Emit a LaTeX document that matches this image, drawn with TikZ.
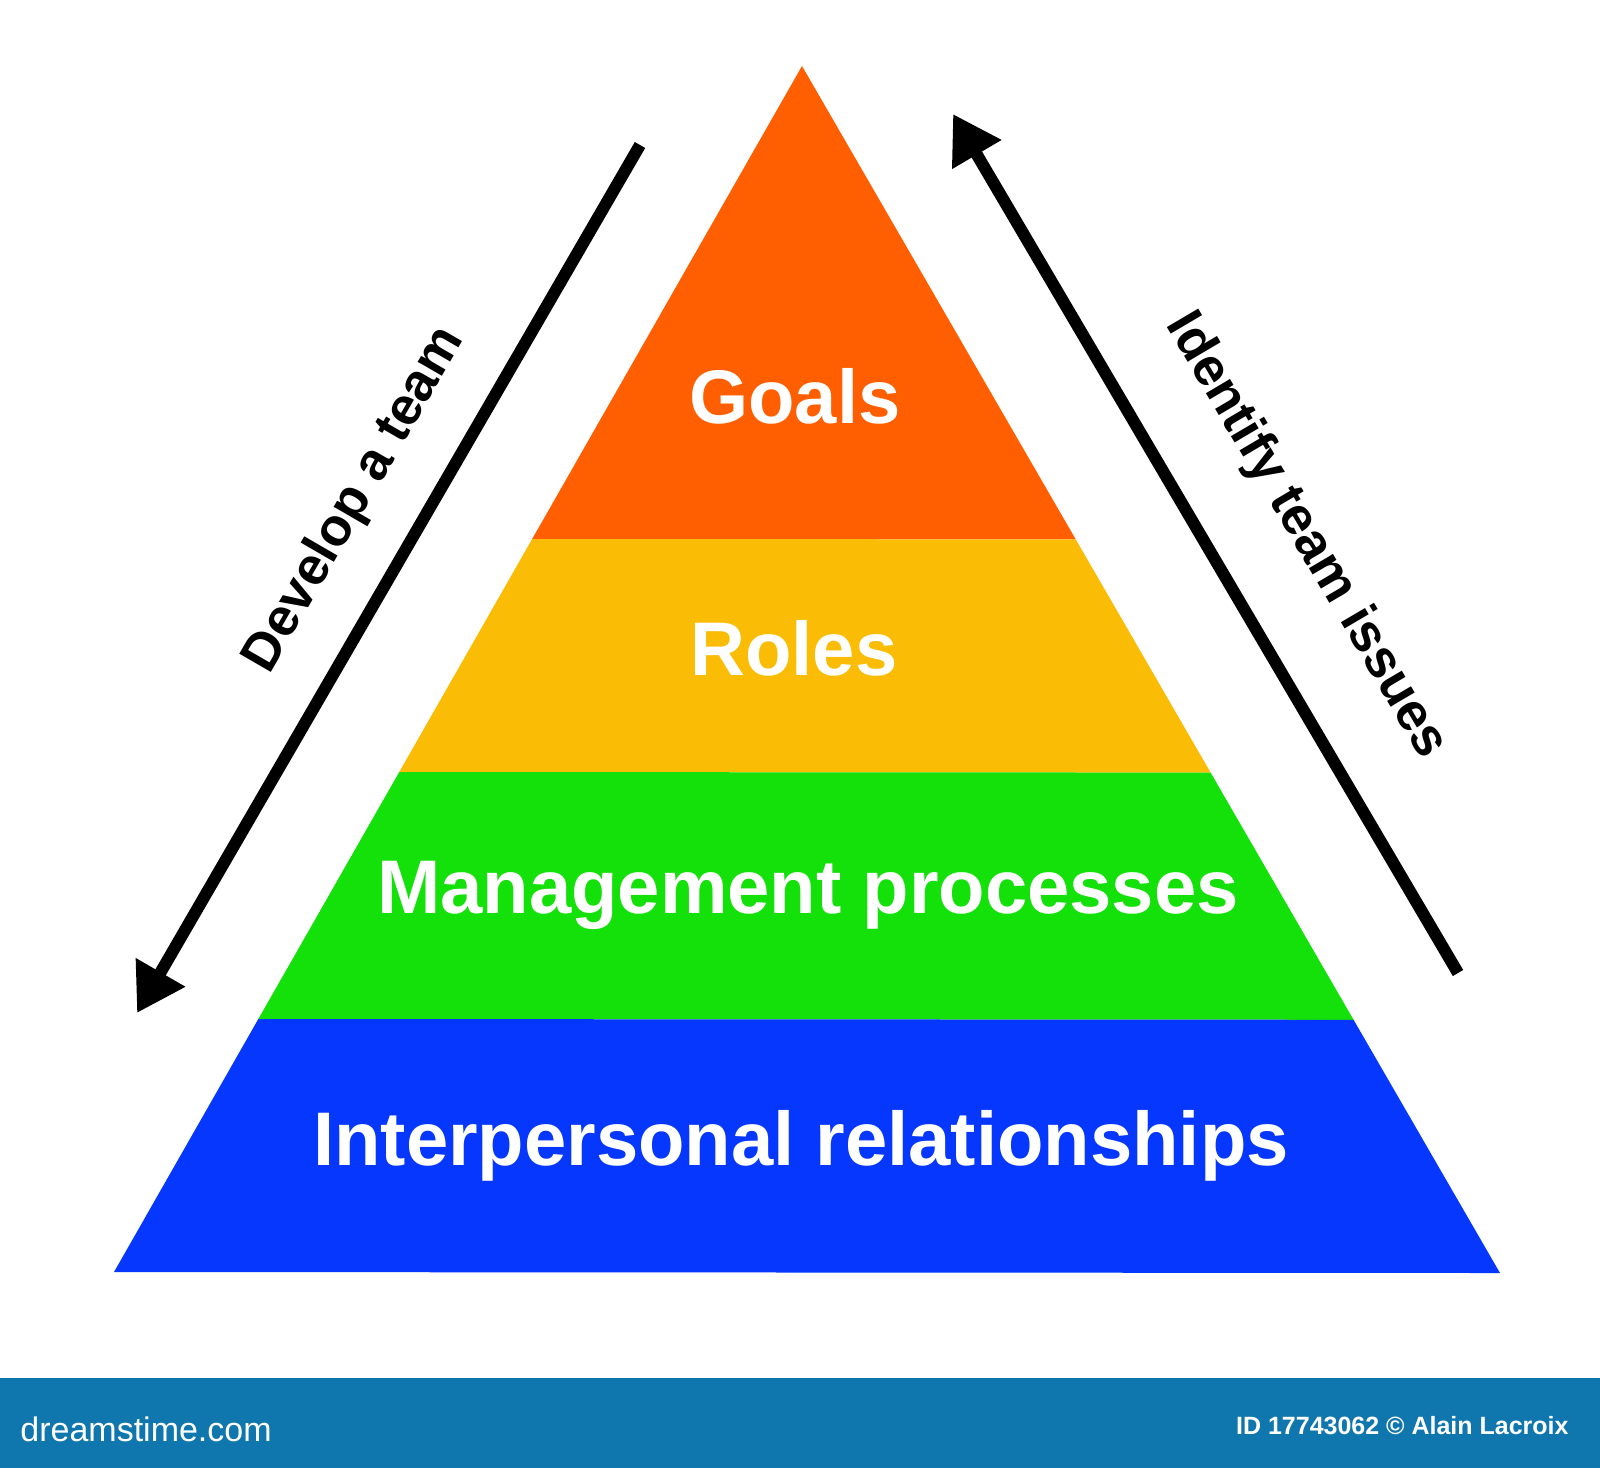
\documentclass[tikz,border=0pt]{standalone}
\usepackage{fontspec}
\setmainfont{Liberation Sans}
\usetikzlibrary{arrows.meta,calc}
\definecolor{cOrange}{HTML}{FF5F00}
\definecolor{cYellow}{HTML}{FBBC05}
\definecolor{cGreen}{HTML}{14E00A}
\definecolor{cBlue}{HTML}{0537FF}
\definecolor{cBanner}{HTML}{0F76AE}
\tikzset{
  bandlabel/.style={text=white,font=\bfseries\fontsize{38}{40}\selectfont,inner sep=0pt,anchor=base},
  sidelabel/.style={text=black,font=\bfseries\fontsize{26.5}{29}\selectfont,inner sep=0pt},
  bigarrow/.style={line width=6pt,-{Triangle[length=23.5pt,width=27pt]}},
}
\begin{document}
\begin{tikzpicture}[x=0.5pt,y=-0.5pt]
\useasboundingbox (0,0) rectangle (1600,1468);
\fill[white] (0,0) rectangle (1600,1468);
% pyramid corners
\coordinate (A) at (802,66);
\coordinate (BL) at (114,1272);
\coordinate (BR) at (1500,1273);
\coordinate (L1) at ($(A)!0.3922!(BL)$);
\coordinate (R1) at ($(A)!0.3922!(BR)$);
\coordinate (L2) at ($(A)!0.5854!(BL)$);
\coordinate (R2) at ($(A)!0.5854!(BR)$);
\coordinate (L3) at ($(A)!0.7902!(BL)$);
\coordinate (R3) at ($(A)!0.7902!(BR)$);
\fill[cOrange] (A) -- (L1) -- (R1) -- cycle;
\fill[cYellow] (L1) -- (L2) -- (R2) -- (R1) -- cycle;
\fill[cGreen] (L2) -- (L3) -- (R3) -- (R2) -- cycle;
\fill[cBlue] (L3) -- (BL) -- (BR) -- (R3) -- cycle;
% band labels
\node[bandlabel] (goals) at (795,423) {Goals};
\node[bandlabel] (roles) at (794,675) {Roles};
\node[bandlabel] (mgmt) at (808,913) {Management processes};
\node[bandlabel] (inter) at (801,1165) {Interpersonal relationships};
% arrows
\coordinate (lstart) at (640,145);
\coordinate (lend) at (137,1013);
\coordinate (rstart) at (1458,973);
\coordinate (rend) at (953,114);
\draw[bigarrow] (lstart) -- (lend);
\draw[bigarrow] (rstart) -- (rend);
\node[sidelabel,rotate=59.9] (dev) at (355,500) {Develop a team};
\node[sidelabel,rotate=-59.5] (ident) at (1306,536) {Identify team issues};
% banner
\fill[cBanner] (0,1378) rectangle (1600,1468);
\node[text=white,font=\fontsize{17}{18}\selectfont,inner sep=0pt,anchor=base west] (ds) at (20,1441) {dreamstime.com};
\node[text=white,font=\bfseries\fontsize{12.5}{14}\selectfont,inner sep=0pt,anchor=base east] (id) at (1569,1434) {ID 17743062 © Alain Lacroix};
\end{tikzpicture}
\end{document}
